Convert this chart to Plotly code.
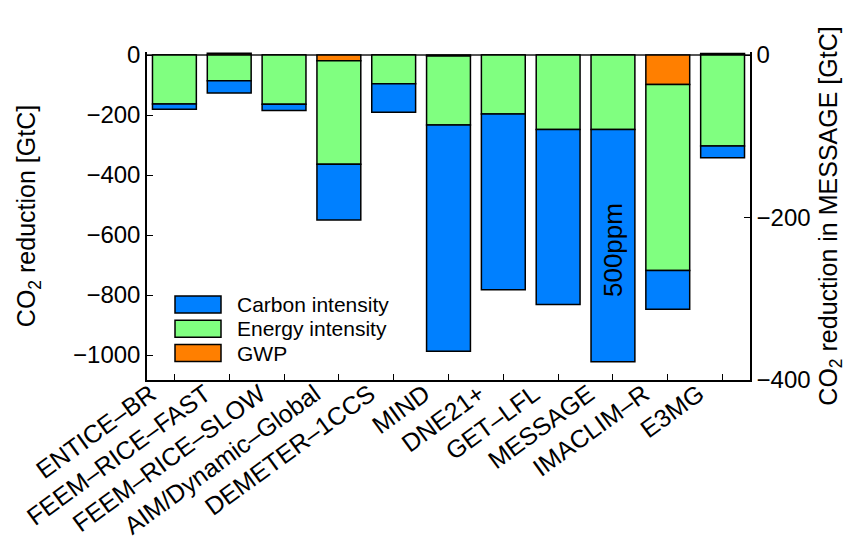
import plotly.graph_objects as go

models = ["ENTICE–BR", "FEEM–RICE–FAST", "FEEM–RICE–SLOW", "AIM/Dynamic–Global",
          "DEMETER–1CCS", "MIND", "DNE21+", "GET–LFL", "MESSAGE", "IMACLIM–R", "E3MG"]
gwp = [0, 6, 0, -19, 0, -3, 0, 0, 0, -98, 5]
energy = [-163, -86, -164, -345, -96, -230, -197, -248, -248, -620, -303]
carbon = [-18, -41, -21, -186, -95, -754, -585, -583, -774, -129, -39]

series_names = ["Carbon intensity", "Energy intensity", "GWP"]
series_colors = ["#0080ff", "#80ff80", "#ff7f00"]

left_range = [-1083, 10]
right_range = [-400, 3.7]
left_ticks = [0, -200, -400, -600, -800, -1000]
right_ticks = [0, -200, -400]

FONT = "Liberation Sans, Arial, sans-serif"
line = dict(color="black", width=1.5)

fig = go.Figure()
for name, vals in [("GWP", gwp), ("Energy intensity", energy), ("Carbon intensity", carbon)]:
    col = series_colors[series_names.index(name)]
    fig.add_trace(go.Bar(x=models, y=vals, name=name, marker=dict(color=col, line=line),
                         width=0.8, showlegend=False))
# invisible trace to carry the right axis
fig.add_trace(go.Scatter(x=[models[0]], y=[0], yaxis="y2", mode="markers",
                         marker=dict(opacity=0), showlegend=False, hoverinfo="skip"))

fig.add_annotation(x="MESSAGE", y=-650, text="500ppm", textangle=-90, showarrow=False,
                   font=dict(size=26, color="black", family=FONT))

# legend drawn inside the plot area (paper coords)
W, H = 603.0, 328.0
x0p, y0p = 147.0, 380.0
for i, (name, col) in enumerate(zip(series_names, series_colors)):
    top = 296 + i * 24.3
    bot = top + 17
    fig.add_shape(type="rect", xref="paper", yref="paper",
                  x0=(175 - x0p) / W, x1=(221 - x0p) / W,
                  y0=(y0p - bot) / H, y1=(y0p - top) / H,
                  fillcolor=col, line=dict(color="black", width=1.5))
    fig.add_annotation(xref="paper", yref="paper", x=(235 - x0p) / W, y=(y0p - (top + 8.5)) / H,
                       text=name, showarrow=False, xanchor="left", yanchor="middle",
                       font=dict(size=21, color="black", family=FONT))

fig.update_layout(
    width=858, height=543,
    margin=dict(l=147, r=108, t=52, b=163),
    barmode="relative",
    plot_bgcolor="white", paper_bgcolor="white",
    font=dict(family=FONT, size=24, color="black"),
    showlegend=False,
    xaxis=dict(range=[-0.5, 10.5], tickangle=-36, ticks="inside", ticklen=6, tickcolor="black",
               showline=True, linecolor="black", linewidth=1.5, showgrid=False,
               tickfont=dict(size=25), automargin=False,
               ticklabelstandoff=-12, ticklabelshift=-24),
    yaxis=dict(range=left_range, tickvals=left_ticks, ticks="inside", ticklen=6, tickcolor="black",
               showline=True, linecolor="black", linewidth=1.5, showgrid=False,
               zeroline=True, zerolinecolor="#555555", zerolinewidth=2, automargin=False,
               tickfont=dict(size=24),
               title=dict(text="CO<sub>2</sub> reduction [GtC]", font=dict(size=25), standoff=30)),
    yaxis2=dict(range=right_range, tickvals=right_ticks, overlaying="y", side="right",
                ticks="inside", ticklen=6, tickcolor="black", automargin=False,
                showline=True, linecolor="black", linewidth=1.5, showgrid=False, zeroline=False,
                tickfont=dict(size=24),
                title=dict(text="CO<sub>2</sub> reduction in MESSAGE [GtC]", font=dict(size=25), standoff=10)),
)

fig.write_html("out.html")
